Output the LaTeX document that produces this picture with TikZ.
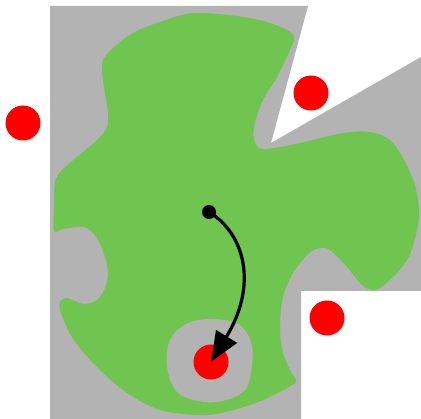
\documentclass[tikz,border=0pt]{standalone}
\usetikzlibrary{arrows.meta}
\definecolor{obst}{RGB}{179,179,179}
\definecolor{free}{RGB}{112,196,80}
\definecolor{goal}{RGB}{255,0,0}
\tikzset{
  reddot/.style={circle,fill=goal,draw=none,minimum size=35pt,inner sep=0pt},
  blackdot/.style={circle,fill=black,draw=none,minimum size=14pt,inner sep=0pt},
  motion/.style={line width=3.2pt,-{Triangle[length=30pt,width=24pt]}}
}
\begin{document}
\begin{tikzpicture}[x=1pt,y=-1pt]
\useasboundingbox (0,0) rectangle (421,419);
% obstacle region
\fill[obst] (50,6) -- (308,6) -- (271,143) -- (421,57) -- (421,291) -- (301,291) -- (301,419) -- (50,419) -- cycle;
% free region
\fill[free] plot[smooth cycle, tension=0.55] coordinates {
 (195,13) (250,18) (283,28) (294,37) (290,50) (277,77) (263,100) (255,123) (254,139) (263,149)
 (300,143) (343,133) (370,132) (390,140) (403,158) (415,185) (419,212) (416,235) (407,260) (390,280)
 (375,290) (362,285) (347,267) (330,250) (320,248) (308,254) (293,273) (283,297) (280,327) (283,353)
 (291,372) (296,381) (287,388) (263,400) (240,408) (207,415) (160,410) (123,390) (93,363) (72,337)
 (61,313) (60,302) (67,298) (83,304) (97,300) (105,288) (108,273) (105,257) (97,238) (87,228)
 (77,227) (63,229) (54,231) (54,207) (55,182) (62,170) (77,157) (97,140) (107,127) (108,113)
 (105,93) (102,73) (103,60) (113,48) (133,33) (160,22)
};
% obstacle around goal
\fill[obst] plot[smooth cycle, tension=0.6] coordinates {
 (210,319) (238,324) (251,342) (252,365) (245,390) (222,401) (198,401) (176,391) (167,366) (170,340) (186,324)
};
\node[reddot] (left) at (23,123) {};
\node[reddot] (topr) at (311,93) {};
\node[reddot] (right) at (327,318) {};
\node[reddot] (goalpt) at (211,362) {};
\node[blackdot] (start) at (209,212) {};
\draw[motion] (start.center) .. controls (245,234) and (258,285) .. (goalpt.center);
\end{tikzpicture}
\end{document}
